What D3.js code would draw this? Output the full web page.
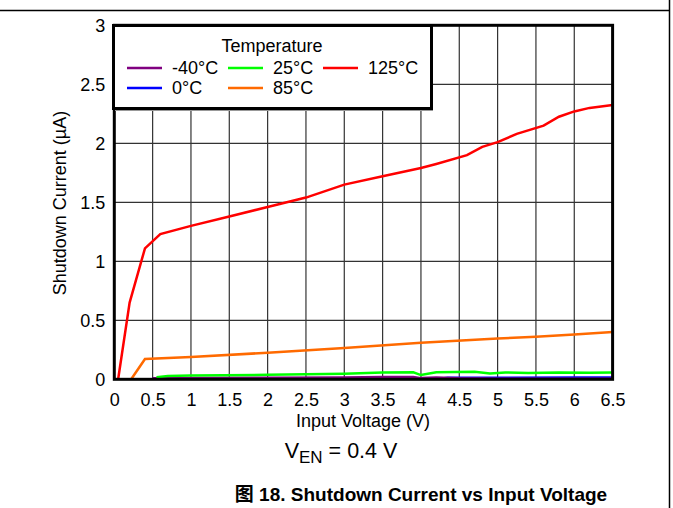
<!DOCTYPE html>
<html><head><meta charset="utf-8">
<script src="https://cdn.jsdelivr.net/npm/d3@7"></script>
<style>body{margin:0;background:#fff}svg{display:block;font-family:"Liberation Sans",Arial,sans-serif}</style>
</head><body>
<svg id="c" width="673" height="508"></svg>
<script>
const xTicks = [0,0.5,1,1.5,2,2.5,3,3.5,4,4.5,5,5.5,6,6.5];
const yTicks = [0,0.5,1,1.5,2,2.5,3];
const seriesNames = ["-40°C","0°C","25°C","85°C","125°C"];
const seriesColors = ["#800080","#0000ff","#00ff00","#ff6a00","#ff0000"];
const vin40  = [0.5,1,2,3,3.5,3.9,4.0,4.2,4.5,5,6.5];
const i40    = [0.008,0.012,0.014,0.016,0.02,0.02,0.01,0.016,0.008,0.004,0.004];
const vin0   = [0.5,1,2,3,4,4.25,4.35,5,6,6.5];
const i0     = [0.004,0.004,0.005,0.005,0.005,0.005,0.014,0.014,0.015,0.015];
const vin25  = [0.55,0.7,1,2,3,3.5,3.9,4.0,4.2,4.7,4.9,5.1,5.4,5.8,6.2,6.5];
const i25    = [0.018,0.028,0.033,0.038,0.048,0.058,0.06,0.036,0.06,0.063,0.05,0.058,0.053,0.057,0.055,0.058];
const vin85  = [0.22,0.4,1,2,3,4,5,5.5,6,6.5];
const i85    = [0,0.172,0.19,0.225,0.265,0.31,0.345,0.36,0.38,0.4];
const vin125 = [0.05,0.2,0.4,0.6,1,1.5,2,2.5,3,3.5,4,4.2,4.6,4.8,5,5.25,5.6,5.8,6,6.2,6.5];
const i125   = [0,0.65,1.11,1.23,1.30,1.38,1.46,1.54,1.65,1.72,1.79,1.825,1.90,1.97,2.01,2.08,2.15,2.225,2.27,2.30,2.325];
const seriesX = [vin40,vin0,vin25,vin85,vin125];
const seriesY = [i40,i0,i25,i85,i125];

const FONT = "'Liberation Sans', Arial, 'Noto Sans CJK SC', sans-serif";
const svg = d3.select("#c");
const x = d3.scaleLinear().domain([0,6.5]).range([114.3,612.6]);
const y = d3.scaleLinear().domain([0,3]).range([379.3,25.3]);

// page lines
svg.append("line").attr("x1",0).attr("x2",669.5).attr("y1",10.5).attr("y2",10.5).attr("stroke","#000").attr("stroke-width",1.5);
svg.append("line").attr("x1",669.5).attr("x2",669.5).attr("y1",0).attr("y2",508).attr("stroke","#000").attr("stroke-width",1.5);

// grid
const g = svg.append("g");
g.selectAll("line.v").data(xTicks.slice(1,-1)).join("line")
  .attr("x1",d=>x(d)).attr("x2",d=>x(d)).attr("y1",y(3)).attr("y2",y(0))
  .attr("stroke","#333").attr("stroke-width",1.2);
g.selectAll("line.h").data(yTicks.slice(1,-1)).join("line")
  .attr("y1",d=>y(d)).attr("y2",d=>y(d)).attr("x1",x(0)).attr("x2",x(6.5))
  .attr("stroke","#333").attr("stroke-width",1.2);

// axes labels
const xa = svg.append("g").attr("transform",`translate(0,${y(0)})`)
  .call(d3.axisBottom(x).tickValues(xTicks).tickSize(0).tickPadding(14).tickFormat(d3.format("")));
xa.select(".domain").remove();
xa.attr("font-family",FONT);
xa.selectAll("text").attr("font-size",18).attr("fill","#000");
const ya = svg.append("g").attr("transform",`translate(${x(0)},0)`)
  .call(d3.axisLeft(y).tickValues(yTicks).tickSize(0).tickPadding(9).tickFormat(d3.format("")));
ya.select(".domain").remove();
ya.attr("font-family",FONT);
ya.selectAll("text").attr("font-size",18).attr("fill","#000");

// series
const line = d3.line().x(d=>x(d[0])).y(d=>y(d[1]));
svg.append("defs").append("clipPath").attr("id","clip").append("rect")
  .attr("x",x(0)).attr("y",y(3)).attr("width",x(6.5)-x(0)).attr("height",y(0)-y(3));
const order = [1,0,2,3,4];
order.forEach(i=>{
  const pts = seriesX[i].map((v,k)=>[v,seriesY[i][k]]);
  svg.append("path").attr("d",line(pts)).attr("fill","none")
    .attr("stroke",seriesColors[i]).attr("stroke-width",2.5).attr("clip-path","url(#clip)");
});

// frame
svg.append("rect").attr("x",x(0)).attr("y",y(3)).attr("width",x(6.5)-x(0)).attr("height",y(0)-y(3))
  .attr("fill","none").attr("stroke","#000").attr("stroke-width",3);

// legend
const lg = svg.append("g").attr("font-family",FONT);
lg.append("rect").attr("x",115).attr("y",27).attr("width",318).attr("height",84).attr("fill","#999");
lg.append("rect").attr("x",113.5).attr("y",25.5).attr("width",318).attr("height",83)
  .attr("fill","#fff").attr("stroke","#000").attr("stroke-width",3);
lg.append("text").attr("x",272).attr("y",52).attr("text-anchor","middle").attr("font-size",18).text("Temperature");
const pos = [[127,68],[127,88],[228,68],[228,88],[323,68]];
seriesNames.forEach((n,i)=>{
  const [px,py]=pos[i];
  lg.append("line").attr("x1",px).attr("x2",px+35).attr("y1",py).attr("y2",py)
    .attr("stroke",seriesColors[i]).attr("stroke-width",2.5);
  lg.append("text").attr("x",px+45).attr("y",py+6).attr("font-size",18).text(n);
});

// titles
svg.append("text").attr("x",363).attr("y",427).attr("text-anchor","middle").attr("font-size",18).attr("font-family",FONT).text("Input Voltage (V)");
svg.append("text").attr("transform","translate(66,203) rotate(-90)").attr("text-anchor","middle").attr("font-size",18).attr("font-family",FONT).text("Shutdown Current (µA)");
const ven = svg.append("text").attr("x",341).attr("y",458).attr("text-anchor","middle").attr("font-size",21.5).attr("font-family",FONT);
ven.append("tspan").text("V");
ven.append("tspan").attr("dy",5).attr("font-size",17).text("EN");
ven.append("tspan").attr("dy",-5).text(" = 0.4 V");
svg.append("text").attr("x",421).attr("y",501).attr("text-anchor","middle").attr("font-size",19)
  .attr("font-weight","bold").attr("font-family",FONT).text("图 18. Shutdown Current vs Input Voltage");
</script>
</body></html>
